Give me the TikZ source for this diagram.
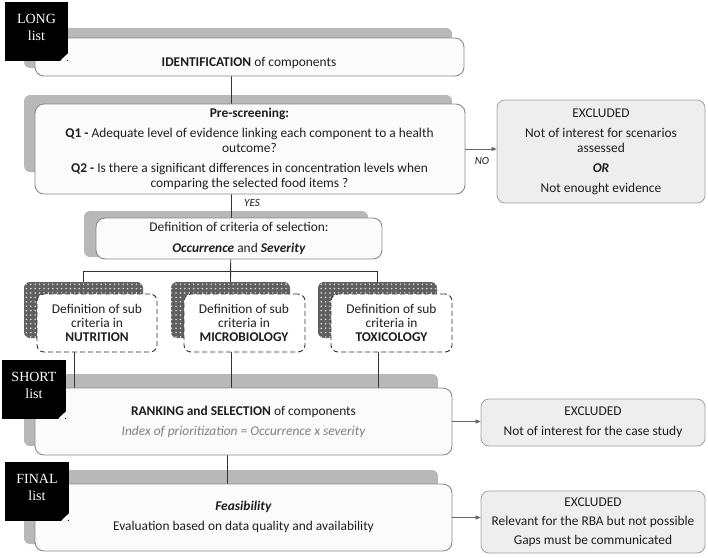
\documentclass[tikz,border=0pt]{standalone}
\usepackage{fontspec}
\setmainfont{Carlito}
\newfontfamily\tagfont{Liberation Serif}
\usetikzlibrary{patterns.meta,arrows.meta}
\definecolor{shade}{HTML}{B8B8B8}
\definecolor{boxline}{HTML}{8A8A8A}
\definecolor{boxfill}{HTML}{FBFBFB}
\definecolor{exfill}{HTML}{EEEEEE}
\definecolor{ink}{HTML}{1E1E1E}
\definecolor{conn}{HTML}{333333}
\tikzset{
  shadowbox/.style={fill=shade, draw=none, rounded corners=6pt},
  dotbox/.style={draw=none, rounded corners=6pt, preaction={fill=gray!75!black},
     pattern={Dots[distance=4.4pt, radius=0.85pt]}, pattern color=white!80!gray},
  whitebox/.style={fill=boxfill, draw=boxline, line width=0.9pt, rounded corners=9pt},
  subbox/.style={fill=white, draw=conn, line width=0.9pt, dash pattern=on 5pt off 3pt, rounded corners=7pt},
  exbox/.style={fill=exfill, draw=boxline!80, line width=0.8pt, rounded corners=8pt},
  tagbox/.style={fill=black, draw=none},
  tagtext/.style={text=white, font=\tagfont\fontsize{14}{17}\selectfont, align=center},
  txt/.style={text=ink, font=\fontsize{13.4}{15}\selectfont, align=center},
  subtxt/.style={text=ink, font=\fontsize{13.4}{14}\selectfont, align=center},
  conline/.style={draw=conn, line width=0.9pt},
  exarrow/.style={draw=gray!80!black, line width=0.7pt, -{Triangle[length=5pt,width=4pt]}},
  small/.style={text=ink, font=\fontsize{11}{12}\selectfont\itshape}
}
\begin{document}
\begin{tikzpicture}[x=1pt,y=-1pt]
\useasboundingbox (0,0) rectangle (708,557);
% coordinates for connector positions
\coordinate (cx) at (231,0);
\coordinate (cxa) at (74,0);
\coordinate (cxb) at (378,0);
\coordinate (cxc) at (227,0);

% ---- shadows
\path[shadowbox] (24,28) rectangle (452,68) node[midway,inner sep=0] (s1) {};
\path[shadowbox] (24,95) rectangle (452,172) node[midway,inner sep=0] (s2) {};
\path[shadowbox] (84,211) rectangle (368,257) node[midway,inner sep=0] (s3) {};
\path[shadowbox] (24,374) rectangle (438,446) node[midway,inner sep=0] (s5) {};
\path[shadowbox] (24,470) rectangle (438,544) node[midway,inner sep=0] (s6) {};
\node[dotbox, minimum width=119pt, minimum height=56pt, inner sep=0] (p1) at (83.5,310) {};
\node[dotbox, minimum width=119pt, minimum height=56pt, inner sep=0] (p2) at (230.5,310) {};
\node[dotbox, minimum width=119pt, minimum height=56pt, inner sep=0] (p3) at (377.5,310) {};

% ---- connectors (behind boxes)
\draw[conline] (cx |- s1.center) -- (cx |- s2.north);
\draw[conline] (cx |- s2.center) -- (cx |- s3.north);
\draw[conline] (cx |- s3.center) -- (p2.north);
\draw[conline] (p1.north) -- ++(0,-10) -| (p3.north);
\draw[conline] (cxa |- p1.center) -- (cxa |- s5.north);
\draw[conline] (cx |- p2.center) -- (cx |- s5.north);
\draw[conline] (cxb |- p3.center) -- (cxb |- s5.north);
\draw[conline] (cxc |- s5.center) -- (cxc |- s6.north);

% ---- white boxes
\node[whitebox, minimum width=429pt, minimum height=38pt, inner sep=0] (b1) at (249.5,57) {};
\node[whitebox, minimum width=430pt, minimum height=90pt, inner sep=0] (b2) at (250,149) {};
\node[whitebox, minimum width=286pt, minimum height=41pt, inner sep=0] (b3) at (239,238.5) {};
\node[subbox, minimum width=120pt, minimum height=58pt, inner sep=0] (n1) at (97,323) {};
\node[subbox, minimum width=121pt, minimum height=58pt, inner sep=0] (n2) at (244.5,323) {};
\node[subbox, minimum width=121pt, minimum height=58pt, inner sep=0] (n3) at (391.5,323) {};
\node[whitebox, minimum width=417pt, minimum height=67pt, inner sep=0] (b5) at (243.5,421.5) {};
\node[whitebox, minimum width=417pt, minimum height=67pt, inner sep=0] (b6) at (243.5,517.5) {};

% ---- excluded boxes
\node[exbox, minimum width=208pt, minimum height=103pt, inner sep=0] (e1) at (601,151.5) {};
\node[exbox, minimum width=224pt, minimum height=47pt, inner sep=0] (e2) at (593,422.5) {};
\node[exbox, minimum width=224pt, minimum height=62pt, inner sep=0] (e3) at (593,522) {};

% ---- arrows to excluded
\draw[exarrow] (b2.east) -- (b2.east -| e1.west);
\draw[exarrow] (b5.east) -- (b5.east -| e2.west);
\draw[exarrow] (b6.east) -- (b6.east -| e3.west);
\node[small] (no) at (482,161) {NO};
\node[small] (yes) at (252,203) {YES};

% ---- texts
\node[txt] (t1) at (249,63) {\textbf{IDENTIFICATION} of components};
\node[txt] (t2) at (249.5,148.5) {\textbf{Pre-screening:}\\[5pt]
  \textbf{Q1 -} Adequate level of evidence linking each component to a health\\
  outcome?\\[5pt]
  \textbf{Q2 -} Is there a significant differences in concentration levels when\\
  comparing the selected food items ?};
\node[txt] (t3) at (239,238.5) {Definition of criteria of selection:\\[6pt]
  \textbf{\itshape Occurrence} and \textbf{\itshape Severity}};
\node[subtxt] (t4) at (97,323) {Definition of sub\\criteria in\\\textbf{NUTRITION}};
\node[subtxt] (t5) at (244,323) {Definition of sub\\criteria in\\\textbf{MICROBIOLOGY}};
\node[subtxt] (t6) at (391.5,323) {Definition of sub\\criteria in\\\textbf{TOXICOLOGY}};
\node[txt] (t7) at (243.5,422) {\textbf{RANKING and SELECTION} of components\\[5pt]
  {\color{gray}\itshape Index of prioritization = Occurrence x severity}};
\node[txt] (t8) at (243.5,517) {\textbf{\itshape Feasibility}\\[5pt]
  Evaluation based on data quality and availability};
\node[txt] (t9) at (601,151.5) {EXCLUDED\\[5pt]
  Not of interest for scenarios\\assessed\\[5pt]
  \textbf{\itshape OR}\\[5pt]
  Not enought evidence};
\node[txt] (t10) at (593,422) {EXCLUDED\\[5pt]Not of interest for the case study};
\node[txt] (t11) at (593,522.5) {EXCLUDED\\[4pt]Relevant for the RBA but not possible\\[4pt]Gaps must be communicated};

% ---- list tags
\node[tagbox, minimum width=63pt, minimum height=59pt, inner sep=0] (g1) at (36.5,31.5) {};
\node[tagbox, minimum width=64pt, minimum height=59pt, inner sep=0] (g2) at (34,389.5) {};
\node[tagbox, minimum width=64pt, minimum height=59pt, inner sep=0] (g3) at (37,491.5) {};
\node[tagtext] (l1) at (g1.center) [yshift=4pt] {LONG\\list};
\node[tagtext] (l2) at (g2.center) [yshift=4pt] {SHORT\\list};
\node[tagtext] (l3) at (g3.center) [yshift=4pt] {FINAL\\list};
\foreach \g in {g1,g2,g3}{
  \fill[white] ([xshift=-8pt]\g.south east) .. controls ([xshift=-6pt,yshift=3pt]\g.south east) and ([xshift=-2pt,yshift=6pt]\g.south east) .. ([yshift=8pt]\g.south east) -- ([yshift=2pt]\g.south east) -- ([xshift=-2pt]\g.south east) -- cycle;
}
\end{tikzpicture}
\end{document}
